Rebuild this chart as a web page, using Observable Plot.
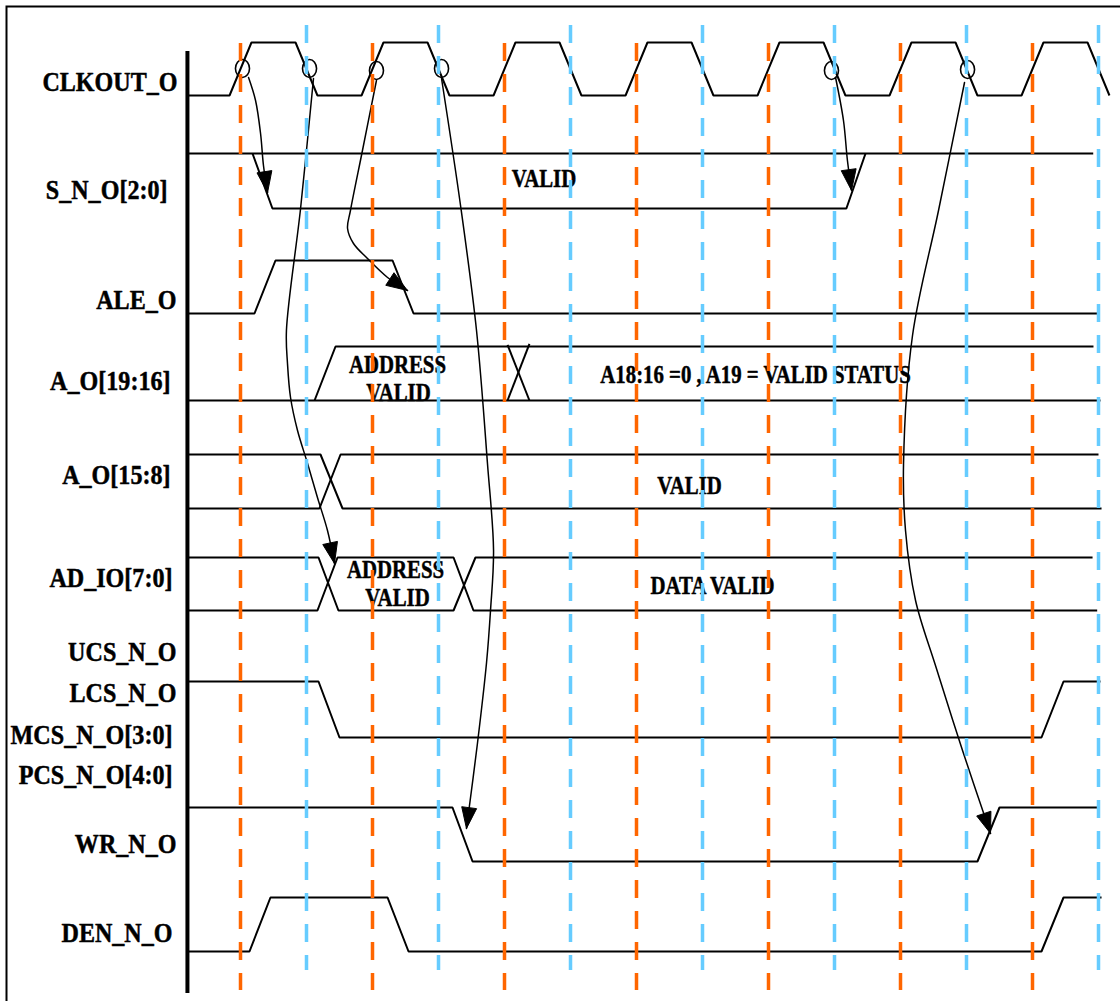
<!DOCTYPE html>
<html><head><meta charset="utf-8">
<script src="https://cdn.jsdelivr.net/npm/d3@7"></script>
<script src="https://cdn.jsdelivr.net/npm/@observablehq/plot@0.6"></script>
<style>
html,body{margin:0;padding:0;background:#fff;overflow:hidden;}
#chart{width:1120px;height:1001px;}
</style></head><body><div id="chart"></div>
<script>
// ---------------- DATA (time in clock cycles) ----------------
const signalLabels = ["CLKOUT_O","S_N_O[2:0]","ALE_O","A_O[19:16]","A_O[15:8]","AD_IO[7:0]",
  "UCS_N_O","LCS_N_O","MCS_N_O[3:0]","PCS_N_O[4:0]","WR_N_O","DEN_N_O"];

const clockRise = [1,2,3,4,5,6,7];          // orange markers
const clockFall = [1.5,2.5,3.5,4.5,5.5,6.5,7.5]; // blue markers
const edgeWidth = 0.166;
const tStart = 0.598;

// waveform vertices: [time, level]
const waves = [
  {id:"S_top",  lane:"S",   pts:[[0.598,1],[7.46,1]]},
  {id:"S_low",  lane:"S",   pts:[[1.091,1],[1.242,0],[5.59,0],[5.735,1]]},
  {id:"ALE",    lane:"ALE", pts:[[0.598,0],[1.106,0],[1.265,1],[2.152,1],[2.311,0],[7.508,0]]},
  {id:"A19_lo", lane:"A19", pts:[[0.598,0],[7.515,0]]},
  {id:"A19_hi", lane:"A19", pts:[[1.561,0],[1.72,1],[7.462,1]]},
  {id:"A19_x1", lane:"A19", pts:[[3.023,1.03],[3.189,0]]},
  {id:"A19_x2", lane:"A19", pts:[[3.023,0],[3.189,1.05]]},
  {id:"A15_a",  lane:"A15", pts:[[0.598,1],[1.606,1],[1.773,0],[7.523,0]]},
  {id:"A15_b",  lane:"A15", pts:[[0.598,0],[1.598,0],[1.758,1],[7.5,1]]},
  {id:"AD_a",   lane:"AD",  pts:[[0.598,1],[1.591,1],[1.742,0],[2.614,0],[2.78,1],[7.455,1]]},
  {id:"AD_b",   lane:"AD",  pts:[[0.598,0],[1.583,0],[1.735,1],[2.614,1],[2.765,0],[7.49,0]]},
  {id:"CS",     lane:"CS",  pts:[[0.598,1],[1.591,1],[1.75,0],[7.068,0],[7.235,1],[7.515,1]]},
  {id:"WR",     lane:"WR",  pts:[[0.598,1],[2.606,1],[2.758,0],[6.583,0],[6.75,1],[7.5,1]]},
  {id:"DEN",    lane:"DEN", pts:[[0.598,0],[1.068,0],[1.227,1],[2.114,1],[2.273,0],[7.068,0],[7.235,1],[7.523,1]]}
];

// causal arrows: [time, vertical position]
const arrows = [
  {id:"c1", pts:[[1.061,77],[1.114,100],[1.152,133],[1.174,165],[1.205,192]]},
  {id:"c2", pts:[[1.553,78],[1.455,208],[1.348,330],[1.356,363],[1.379,397],[1.432,430],[1.508,463],[1.583,497],[1.659,530],[1.712,563]]},
  {id:"c3", pts:[[2.030,80],[1.924,150],[1.833,210],[1.811,228],[1.856,243],[1.962,258],[2.114,277],[2.265,290]]},
  {id:"c4", pts:[[2.523,78],[2.667,205],[2.788,330],[2.871,463],[2.917,550],[2.894,610],[2.864,662],[2.795,743],[2.712,828]]},
  {id:"c5", pts:[[5.508,77],[5.568,120],[5.598,160],[5.629,190]]},
  {id:"c6", pts:[[6.485,82],[6.288,210],[6.091,335],[6.023,463],[6.038,530],[6.114,600],[6.265,665],[6.470,750],[6.682,833]]}
];

// edge markers (circles) on the clock
const markerT = [1.015,1.523,2.030,2.523,5.477,6.508];

// text inside the waveforms
const innerText = ["VALID","ADDRESS","VALID","A18:16 =0 , A19 = VALID STATUS","VALID","ADDRESS","VALID","DATA VALID"];
const innerT = [3.299,2.189,2.197,4.902,4.402,2.174,2.189,4.576];

// ---------------- LAYOUT ----------------
const W = 1120, H = 1001;
const T_MIN = -108/132, T_MAX = 1012/132;
const labelRow = [82,190,300,381,475,578,652,693,735,775,844,933];
const labelRight = [177,167,176,170,170,172,176,176,172,172,176,172];
const markerRow = [68,68,70,68,70,69];
const innerRow = [178,364,392,374,485,569,597,585];
const lanes = {CLK:{hi:42,lo:95}, S:{hi:153,lo:208}, ALE:{hi:260,lo:313}, A19:{hi:346,lo:400},
  A15:{hi:454,lo:508}, AD:{hi:557,lo:610}, CS:{hi:681,lo:737}, WR:{hi:807,lo:861}, DEN:{hi:897,lo:951}};
const xs = d3.scaleLinear([T_MIN,T_MAX],[0,W]);
const ys = d3.scaleLinear([0,H],[0,H]);

// clock waveform from edges
const clk = [[tStart,0]];
clockRise.forEach((r,i)=>{
  clk.push([r-edgeWidth/2,0],[r+edgeWidth/2,1]);
  const f = clockFall[i];
  clk.push([f-edgeWidth/2,1],[f+edgeWidth/2,0]);
});
const allWaves = [{id:"CLK",lane:"CLK",pts:clk}, ...waves];
const sigRows = allWaves.flatMap(w => w.pts.map(([t,l]) => ({id:w.id, t, y: lanes[w.lane].lo - l*(lanes[w.lane].lo - lanes[w.lane].hi)})));
const curveRows = arrows.flatMap(a => a.pts.map(([t,y]) => ({id:a.id, t, y})));

// arrowheads from the curve ends
const headRows = arrows.flatMap(a => {
  const n = a.pts.length;
  const P = [xs(a.pts[n-1][0]), ys(a.pts[n-1][1])];
  const Q = [xs(a.pts[n-2][0]), ys(a.pts[n-2][1])];
  let dx = P[0]-Q[0], dy = P[1]-Q[1]; const len = Math.hypot(dx,dy); dx/=len; dy/=len;
  const L = 21, hw = 7.5;
  const B = [P[0]-dx*L, P[1]-dy*L];
  const pts = [P, [B[0]-dy*hw, B[1]+dx*hw], [B[0]+dy*hw, B[1]-dx*hw], P];
  return pts.map(p => ({id:a.id, t: xs.invert(p[0]), y: ys.invert(p[1])}));
});

const labels = signalLabels.map((s,i)=>({text:s, t:xs.invert(labelRight[i]), y:labelRow[i]}));
const inner = innerText.map((s,i)=>({text:s, t:innerT[i], y:innerRow[i]}));
const markers = markerT.map((t,i)=>({t, y:markerRow[i]}));

const ellipse = {draw(ctx, size){
  const r = Math.sqrt(size/Math.PI), rx = r*0.78, ry = r, k = 0.5523;
  ctx.moveTo(rx,0);
  ctx.bezierCurveTo(rx, ry*k, rx*k, ry, 0, ry);
  ctx.bezierCurveTo(-rx*k, ry, -rx, ry*k, -rx, 0);
  ctx.bezierCurveTo(-rx, -ry*k, -rx*k, -ry, 0, -ry);
  ctx.bezierCurveTo(rx*k, -ry, rx, -ry*k, rx, 0);
  ctx.closePath();
}};

const font = "'Liberation Serif','Times New Roman',serif";
const svg = Plot.plot({
  width: W, height: H,
  marginTop:0, marginRight:0, marginBottom:0, marginLeft:0,
  x: {domain:[T_MIN,T_MAX], range:[0,W], axis:null},
  y: {domain:[0,H], range:[0,H], axis:null},
  style: {background:"white", overflow:"hidden"},
  marks: [
    Plot.frame({stroke:"black", strokeWidth:2, insetTop:6, insetLeft:6, insetRight:-30, insetBottom:-30}),
    Plot.ruleX([tStart], {y1:51, y2:993, stroke:"black", strokeWidth:4}),
    Plot.line(sigRows, {x:"t", y:"y", z:"id", stroke:"black", strokeWidth:2, strokeLinejoin:"miter", strokeLinecap:"butt"}),
    Plot.line(curveRows, {x:"t", y:"y", z:"id", stroke:"black", strokeWidth:1.5, curve:"catmull-rom"}),
    Plot.text(labels, {x:"t", y:"y", text:"text", textAnchor:"end", fontSize:28, fontWeight:"bold", fontFamily:font, fill:"black", stroke:"black", strokeWidth:0.5}),
    Plot.text(inner, {x:"t", y:"y", text:"text", textAnchor:"middle", fontSize:26, fontWeight:"bold", fontFamily:font, fill:"black", stroke:"black", strokeWidth:0.5}),
    Plot.dot(markers, {x:"t", y:"y", r:9, symbol:ellipse, stroke:"black", strokeWidth:1.6, fill:"none"}),
    Plot.ruleX(clockRise, {y1:43, y2:990, stroke:"#FF6600", strokeWidth:3.5, strokeDasharray:"18,13"}),
    Plot.ruleX(clockFall, {y1:25, y2:970, stroke:"#66CCFF", strokeWidth:3.5, strokeDasharray:"18,13"}),
    Plot.line(headRows, {x:"t", y:"y", z:"id", stroke:"black", fill:"black", strokeWidth:1})
  ]
});
document.getElementById("chart").appendChild(svg);

// condense glyphs like the source drawing
const groups = svg.querySelectorAll('g[aria-label="text"]');
const factors = [0.86, 0.80];
groups.forEach((g,gi)=>{
  g.querySelectorAll("text").forEach(el=>{
    const len = el.getComputedTextLength();
    el.setAttribute("textLength", (len*factors[gi]).toFixed(1));
    el.setAttribute("lengthAdjust","spacingAndGlyphs");
  });
});
</script></body></html>
